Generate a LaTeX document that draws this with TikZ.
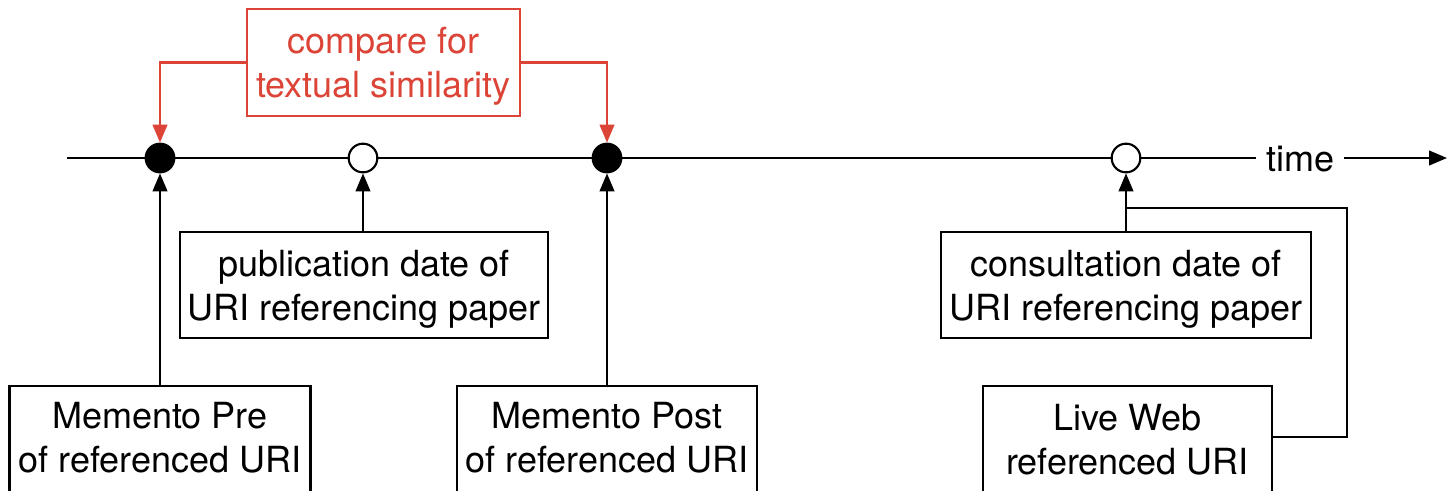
\documentclass[tikz,border=0pt]{standalone}
\usepackage{fontspec}
\setmainfont{TeX Gyre Heros}
\usetikzlibrary{arrows.meta}
\definecolor{cmpred}{RGB}{219,68,55}
\tikzset{
  every node/.style={font=\fontsize{27}{33}\selectfont},
  box/.style={draw=black, line width=1.6pt, rectangle, inner sep=0pt, align=center},
  redbox/.style={draw=cmpred, text=cmpred, line width=1.6pt, rectangle, inner sep=0pt, align=center},
  txt/.style={align=center, inner sep=0pt},
  fulldot/.style={circle, fill=black, draw=black, line width=1.6pt, minimum size=21.5pt, inner sep=0pt},
  opendot/.style={circle, fill=white, draw=black, line width=1.6pt, minimum size=21.5pt, inner sep=0pt},
  conn/.style={draw=black, line width=1.6pt, -{Triangle[length=13.5pt,width=11pt]}},
  redconn/.style={draw=cmpred, line width=1.6pt, -{Triangle[length=13.5pt,width=11pt]}},
  plain/.style={draw=black, line width=1.6pt},
}
\begin{document}
\begin{tikzpicture}[x=0.75pt, y=-0.75pt]
\useasboundingbox (0,0) rectangle (1453,490);
\clip (0,0) rectangle (1453,490);
% time label and axis
\node[txt, anchor=base, inner xsep=7.5pt] (time) at (1300,171) {time};
\coordinate (tstart) at (67,158);
\coordinate (tend) at (1447,158);
\draw[plain] (tstart) -- (time.west |- tstart);
\draw[conn] (time.east |- tend) -- (tend);
% dots
\node[fulldot] (c1) at (160,158) {};
\node[opendot] (c2) at (363,158) {};
\node[fulldot] (c3) at (607,158) {};
\node[opendot] (c4) at (1126,158) {};
% red comparison box
\node[redbox, text depth=0pt, minimum width=273*0.75pt, minimum height=107*0.75pt] (cmp) at (383.5,62.5) {compare for\\textual similarity};
\draw[redconn] (cmp.west) -| (c1.north);
\draw[redconn] (cmp.east) -| (c3.north);
% middle boxes
\node[box, text depth=0pt, minimum width=368*0.75pt, minimum height=106*0.75pt] (pub) at (364,285) {publication date of\\URI referencing paper};
\node[box, text depth=0pt, minimum width=370*0.75pt, minimum height=106*0.75pt] (cons) at (1126,285) {consultation date of\\URI referencing paper};
% bottom boxes (extend below picture)
\node[box, anchor=north, minimum width=301*0.75pt, minimum height=150*0.75pt] (pre) at (160,385) {};
\node[txt] (pretxt) at (160,438) {Memento Pre\\of referenced URI};
\node[box, anchor=north, minimum width=300*0.75pt, minimum height=150*0.75pt] (post) at (607,385) {};
\node[txt] (posttxt) at (607,438) {Memento Post\\of referenced URI};
\node[box, anchor=north, minimum width=289*0.75pt, minimum height=150*0.75pt] (live) at (1127.5,385) {};
\node[txt] (livetxt) at (1127.5,440) {Live Web\\referenced URI};
% connectors
\draw[conn] (pre.north) -- (c1.south);
\draw[conn] (pub.north -| c2) -- (c2.south);
\draw[conn] (post.north) -- (c3.south);
\draw[conn] (cons.north) -- (c4.south);
\coordinate (lw) at ([yshift=-39pt]live.north east);
\coordinate (join) at (1126,208);
\coordinate (turn) at (1347,208);
\draw[plain] (lw) -| (turn) -- (join);
\end{tikzpicture}
\end{document}
